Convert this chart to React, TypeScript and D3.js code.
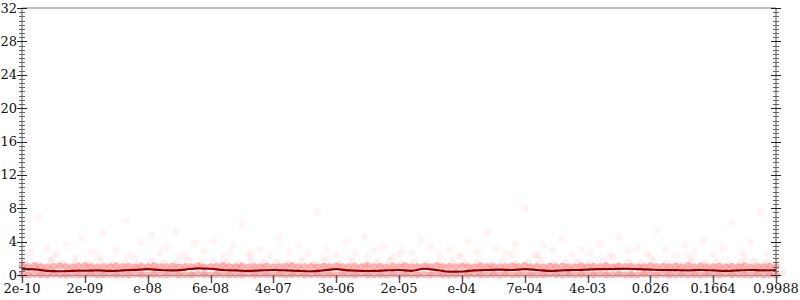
import React from "react";
import * as d3 from "d3";

const W = 800, H = 300;
const M = { left: 22, right: 24, top: 8, bottom: 25 };

const xTickLabels = ["2e-10", "2e-09", "e-08", "6e-08", "4e-07", "3e-06", "2e-05", "e-04", "7e-04", "4e-03", "0.026", "0.1664", "0.9988"];
const yMajor = [0, 4, 8, 12, 16, 20, 24, 28, 32];

// median line, x step 0.2 (index units)
const lineVals = [0.7, 0.68, 0.5, 0.45, 0.5, 0.52, 0.55, 0.5, 0.55, 0.62, 0.7, 0.6, 0.55, 0.65, 0.8, 0.75, 0.6, 0.55, 0.5, 0.55, 0.6, 0.55, 0.5, 0.45, 0.55, 0.7, 0.55, 0.5, 0.5, 0.55, 0.6, 0.5, 0.75, 0.6, 0.4, 0.42, 0.55, 0.6, 0.65, 0.6, 0.7, 0.6, 0.5, 0.55, 0.6, 0.65, 0.7, 0.72, 0.75, 0.7, 0.65, 0.6, 0.58, 0.55, 0.6, 0.55, 0.5, 0.55, 0.6, 0.55, 0.6];

// dense rows: values near 1 and near 0, x step 0.1
const rowOne = [1.05, 0.98, 1.1, 1.0, 0.95, 1.02, 1.08, 1.0, 0.97, 1.05, 1.1, 1.0, 0.96, 1.03, 1.0, 1.07, 0.99, 1.02, 0.95, 1.04, 1.0, 1.1, 0.98, 1.0, 1.05, 0.97, 1.02, 1.0, 1.08, 0.96, 1.0, 1.03, 1.1, 0.98, 1.0, 1.05, 0.97, 1.02, 1.0, 1.06, 0.95, 1.0, 1.04, 1.1, 0.99, 1.0, 1.02, 0.96, 1.05, 1.0, 1.08, 0.98, 1.0, 1.03, 0.97, 1.1, 1.0, 1.02, 0.95, 1.05, 1.0, 1.07, 0.98, 1.0, 1.04, 0.96, 1.1, 1.0, 1.02, 0.99, 1.05, 1.0, 0.97, 1.08, 1.0, 1.03, 0.95, 1.0, 1.06, 0.98, 1.1, 1.0, 1.02, 0.97, 1.05, 1.0, 1.04, 0.96, 1.0, 1.08, 0.99, 1.02, 1.0, 1.1, 0.97, 1.05, 1.0, 1.03, 0.95, 1.0, 1.07, 0.98, 1.02, 1.0, 1.05, 0.96, 1.1, 1.0, 1.04, 0.99, 1.0, 1.06, 0.97, 1.02, 1.0, 1.08, 0.95, 1.03, 1.0, 1.05, 1.0];
const rowZero = [0.05, 0.0, 0.08, 0.02, 0.0, 0.1, 0.03, 0.0, 0.06, 0.0, 0.04, 0.09, 0.0, 0.02, 0.07, 0.0, 0.05, 0.0, 0.1, 0.03, 0.0, 0.06, 0.02, 0.0, 0.08, 0.0, 0.04, 0.0, 0.1, 0.02, 0.0, 0.05, 0.07, 0.0, 0.03, 0.0, 0.09, 0.0, 0.05, 0.02, 0.0, 0.08, 0.0, 0.04, 0.1, 0.0, 0.03, 0.06, 0.0, 0.02, 0.0, 0.07, 0.05, 0.0, 0.1, 0.0, 0.04, 0.02, 0.0, 0.08, 0.0, 0.06, 0.03, 0.0, 0.05, 0.0, 0.09, 0.02, 0.0, 0.04, 0.07, 0.0, 0.1, 0.0, 0.03, 0.05, 0.0, 0.08, 0.0, 0.02, 0.06, 0.0, 0.04, 0.0, 0.1, 0.03, 0.0, 0.07, 0.0, 0.05, 0.02, 0.0, 0.09, 0.0, 0.04, 0.06, 0.0, 0.03, 0.0, 0.08, 0.05, 0.0, 0.1, 0.0, 0.02, 0.07, 0.0, 0.04, 0.0, 0.06, 0.03, 0.0, 0.09, 0.0, 0.05, 0.02, 0.0, 0.08, 0.0, 0.04, 0.0];
const rowMid = [1.5, 1.3, 1.7, 1.4, 1.6, 1.35, 1.8, 1.45, 1.55, 1.3, 1.65, 1.5, 1.4, 1.75, 1.35, 1.6, 1.45, 1.3, 1.7, 1.5, 1.55, 1.4, 1.8, 1.35, 1.6, 1.45, 1.65, 1.3, 1.5, 1.7, 1.4, 1.55, 1.35, 1.6, 1.75, 1.45, 1.5, 1.3, 1.65, 1.4, 1.55, 1.8, 1.35, 1.5, 1.6, 1.45, 1.7, 1.3, 1.55, 1.4, 1.65, 1.5, 1.35, 1.75, 1.45, 1.6, 1.3, 1.5, 1.7, 1.4, 1.55];
const rowLow = [0.3, 0.25, 0.35, 0.2, 0.3, 0.28, 0.22, 0.33, 0.27, 0.3, 0.24, 0.36, 0.29, 0.21, 0.31, 0.26, 0.34, 0.23, 0.3, 0.28, 0.25, 0.32, 0.2, 0.35, 0.27, 0.3, 0.22, 0.33, 0.26, 0.29, 0.31, 0.24, 0.35, 0.28, 0.21, 0.3, 0.27, 0.34, 0.23, 0.32, 0.26, 0.29, 0.25, 0.36, 0.22, 0.3, 0.28, 0.33, 0.24, 0.31, 0.27, 0.2, 0.35, 0.26, 0.3, 0.29, 0.23, 0.34, 0.25, 0.32, 0.28];

// scattered outliers: [x index, value]
const outX = [0.25, 0.4, 0.55, 0.7, 0.85, 0.95, 1.1, 1.3, 1.5, 1.65, 1.7, 1.9, 2.05, 2.2, 2.3, 2.45, 2.6, 2.75, 2.9, 3.05, 3.2, 3.35, 3.5, 3.65, 3.8, 3.95, 4.1, 4.25, 4.4, 4.55, 4.7, 4.85, 5.0, 5.15, 5.3, 5.45, 5.6, 5.75, 5.9, 6.05, 6.2, 6.35, 6.5, 6.65, 6.8, 6.95, 7.1, 7.25, 7.4, 7.55, 7.7, 7.85, 8.0, 8.15, 8.3, 8.45, 8.6, 8.75, 8.9, 9.05, 9.2, 9.35, 9.5, 9.65, 9.8, 9.95, 10.1, 10.25, 10.4, 10.55, 10.7, 10.85, 11.0, 11.15, 11.3, 11.45, 11.6, 11.75, 11.85, 11.95, 0.5, 1.2, 2.5, 3.6, 4.8, 6.0, 7.0, 8.2, 9.4, 10.6, 11.5, 0.15, 1.8, 3.3, 5.5, 7.8, 10.0];
const outY = [6.8, 3.2, 2.5, 3.6, 2.2, 4.5, 2.8, 5.0, 3.0, 6.5, 2.3, 3.9, 4.8, 2.6, 3.3, 5.2, 2.4, 3.8, 2.9, 4.1, 2.2, 3.5, 6.1, 2.7, 3.1, 2.3, 4.4, 2.8, 3.6, 2.5, 7.5, 3.0, 2.4, 3.9, 2.6, 4.6, 2.9, 3.3, 2.2, 3.0, 2.7, 4.2, 3.4, 2.5, 3.0, 2.3, 4.0, 2.8, 5.0, 3.2, 2.6, 3.7, 8.0, 2.4, 3.5, 2.9, 4.3, 2.5, 3.1, 2.7, 3.8, 2.3, 4.5, 2.9, 3.3, 2.6, 5.4, 3.0, 2.4, 3.6, 2.8, 4.1, 2.5, 3.2, 6.2, 2.7, 3.9, 7.4, 2.6, 4.8, 2.1, 2.4, 2.2, 2.3, 2.1, 2.5, 2.2, 2.4, 2.1, 2.3, 2.2, 2.8, 2.0, 2.6, 2.1, 2.4, 2.2];

export default function App() {
  const x = d3.scaleLinear().domain([0, 12]).range([M.left, W - M.right]);
  const y = d3.scaleLinear().domain([0, 32]).range([H - M.bottom, M.top]);
  const x0 = M.left, x1 = W - M.right, yb = H - M.bottom, yt = M.top;

  const line = d3.line<number>().x((_, i) => x(i * 0.2)).y((d) => y(d)).curve(d3.curveMonotoneX);
  const minor = d3.range(0, 32.01, 0.5).filter((v) => v % 4 !== 0);

  const pts: { cx: number; cy: number; o: number }[] = [];
  rowOne.forEach((v, i) => pts.push({ cx: x(i * 0.1), cy: y(v), o: 0.32 }));
  rowZero.forEach((v, i) => pts.push({ cx: x(i * 0.1), cy: y(v), o: 0.32 }));
  rowMid.forEach((v, i) => pts.push({ cx: x(i * 0.2 + 0.05), cy: y(v), o: 0.07 }));
  rowLow.forEach((v, i) => pts.push({ cx: x(i * 0.2 + 0.1), cy: y(v), o: 0.1 }));
  outX.forEach((v, i) => pts.push({ cx: x(v), cy: y(outY[i]), o: 0.05 }));

  return (
    <svg width={W} height={H} style={{ position: "absolute", left: 0, top: 0 }} fontFamily="DejaVu Serif" fontSize={13}>
      <rect width={W} height={H} fill="#fff" />
      <g>
        {pts.map((p, i) => (
          <circle key={i} cx={p.cx} cy={p.cy} r={3.5} fill="#ff1010" fillOpacity={p.o} />
        ))}
      </g>
      <path d={line(lineVals) || ""} fill="none" stroke="#8b0000" strokeWidth={2.2} />
      <line x1={x0} x2={x1} y1={yt} y2={yt} stroke="#aaa" strokeWidth={1.5} />
      <line x1={x0} x2={x1} y1={yb + 0.5} y2={yb + 0.5} stroke="#999" strokeWidth={1} />
      {[x0, x1].map((ax, k) => (
        <g key={k}>
          <line x1={ax} x2={ax} y1={yt} y2={yb} stroke="#555" strokeWidth={1} />
          {minor.map((v) => (
            <line key={v} x1={ax - 3} x2={ax + 3} y1={Math.round(y(v)) + 0.5} y2={Math.round(y(v)) + 0.5} stroke="#666" strokeWidth={1} />
          ))}
          {yMajor.map((v) => (
            <line key={v} x1={ax - 5} x2={ax + 5} y1={Math.round(y(v)) + 0.5} y2={Math.round(y(v)) + 0.5} stroke="#222" strokeWidth={1} />
          ))}
        </g>
      ))}
      {yMajor.map((v) => (
        <text key={v} x={x0 - 5} y={y(v)} dy="0.35em" textAnchor="end" fill="#111">{v}</text>
      ))}
      {xTickLabels.map((t, i) => (
        <g key={t}>
          <line x1={Math.round(x(i)) + 0.5} x2={Math.round(x(i)) + 0.5} y1={yb} y2={yb + 8} stroke="#555" strokeWidth={1.5} />
          <text x={x(i)} y={yb + 18} textAnchor="middle" fill="#111">{t}</text>
        </g>
      ))}
    </svg>
  );
}
